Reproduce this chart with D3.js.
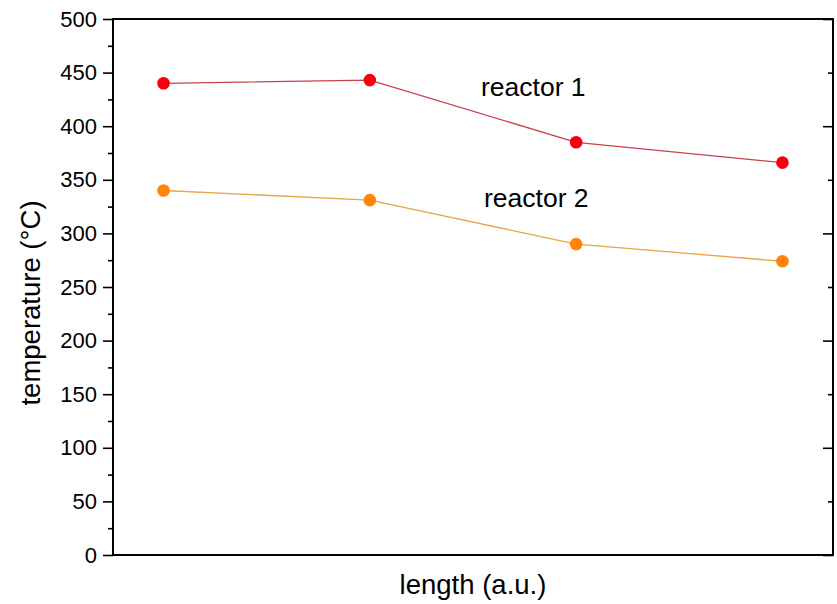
<!DOCTYPE html>
<html>
<head>
<meta charset="utf-8">
<script src="https://cdn.jsdelivr.net/npm/d3@7/dist/d3.min.js"></script>
<style>
  html, body { margin: 0; padding: 0; background: #fff; }
  svg { display: block; font-family: "Liberation Sans", Arial, sans-serif; }
</style>
</head>
<body>
<svg id="chart" width="837" height="604"></svg>
<script>
// Measurement positions along the reactor (arbitrary units)
const positions = [1, 2, 3, 4];
// Temperatures in °C
const reactor1 = [440, 443, 385, 366];
const reactor2 = [340, 331, 290, 274];
const seriesNames = ["reactor 1", "reactor 2"];
const yTicksMajor = [0, 50, 100, 150, 200, 250, 300, 350, 400, 450, 500];

const svg = d3.select("#chart");
const margin = { left: 113, right: 4, top: 19, bottom: 49 };
const W = 837, H = 604;
const x0 = margin.left, x1 = W - margin.right;
const y0 = H - margin.bottom, y1 = margin.top;

const x = d3.scaleLinear().domain([0.755, 4.245]).range([x0, x1]);
const y = d3.scaleLinear().domain([0, 500]).range([y0, y1]);

// Left axis: major every 50 outward, minor every 25
const leftMinor = d3.axisLeft(y).tickValues(d3.range(25, 500, 50)).tickSize(5).tickFormat("");
const leftMajor = d3.axisLeft(y).tickValues(yTicksMajor).tickSize(10).tickPadding(6).tickFormat(d3.format("d"));
// Right axis: ticks pointing inward, major 100, minor 50
const rightMajor = d3.axisLeft(y).tickValues(d3.range(0, 501, 100)).tickSize(10).tickFormat("");
const rightMinor = d3.axisLeft(y).tickValues(d3.range(50, 500, 100)).tickSize(5).tickFormat("");

function styleAxis(g) {
  g.select(".domain").remove();
  g.selectAll(".tick line").attr("stroke", "#000").attr("stroke-width", 1.6);
  g.selectAll(".tick text").attr("fill", "#000").attr("font-size", 22)
    .attr("font-family", "'Liberation Sans', Arial, sans-serif");
}

svg.append("g").attr("transform", `translate(${x0},0)`).call(leftMinor).call(styleAxis);
svg.append("g").attr("transform", `translate(${x0},0)`).call(leftMajor).call(styleAxis);
svg.append("g").attr("transform", `translate(${x1},0)`).call(rightMajor).call(styleAxis);
svg.append("g").attr("transform", `translate(${x1},0)`).call(rightMinor).call(styleAxis);

// Frame
svg.append("rect")
  .attr("x", x0).attr("y", y1)
  .attr("width", x1 - x0).attr("height", y0 - y1)
  .attr("fill", "none").attr("stroke", "#000").attr("stroke-width", 2);

const series = [
  { name: seriesNames[0], values: reactor1, line: "#c8404c", fill: "#f5000f" },
  { name: seriesNames[1], values: reactor2, line: "#e8a448", fill: "#ff8409" }
];

const line = d3.line().x(d => x(d[0])).y(d => y(d[1]));

series.forEach(s => {
  const pts = positions.map((p, i) => [p, s.values[i]]);
  svg.append("path").datum(pts)
    .attr("d", line).attr("fill", "none")
    .attr("stroke", s.line).attr("stroke-width", 1.3);
  svg.append("g").selectAll("circle").data(pts).join("circle")
    .attr("cx", d => x(d[0])).attr("cy", d => y(d[1])).attr("r", 6.3)
    .attr("fill", s.fill);
});

// Series labels
svg.append("text").attr("x", 481).attr("y", 96)
  .attr("font-size", 26.5).attr("fill", "#000").text(seriesNames[0]);
svg.append("text").attr("x", 484).attr("y", 207)
  .attr("font-size", 26.5).attr("fill", "#000").text(seriesNames[1]);

// Axis titles
svg.append("text")
  .attr("transform", `translate(40,${303}) rotate(-90)`)
  .attr("text-anchor", "middle").attr("font-size", 27.5).attr("fill", "#000")
  .text("temperature (°C)");
svg.append("text")
  .attr("x", 473).attr("y", 594)
  .attr("text-anchor", "middle").attr("font-size", 27.5).attr("fill", "#000")
  .text("length (a.u.)");
</script>
</body>
</html>
